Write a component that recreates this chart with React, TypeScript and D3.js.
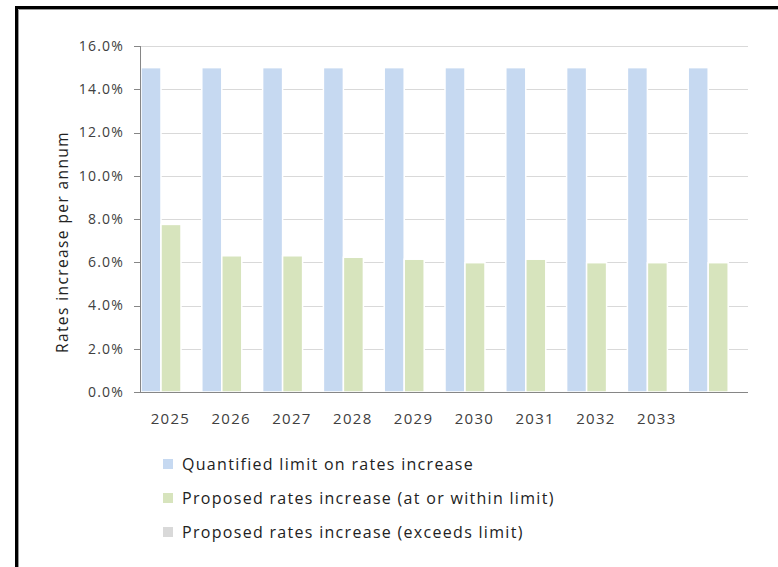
import React from "react";
import * as d3 from "d3";

const categories = ["2025", "2026", "2027", "2028", "2029", "2030", "2031", "2032", "2033", ""];
const limitValues = [15.0, 15.0, 15.0, 15.0, 15.0, 15.0, 15.0, 15.0, 15.0, 15.0];
const withinValues = [7.75, 6.3, 6.3, 6.23, 6.14, 5.98, 6.14, 5.98, 5.98, 5.98];
const exceedsValues = [0, 0, 0, 0, 0, 0, 0, 0, 0, 0];
const seriesNames = [
  "Quantified limit on rates increase",
  "Proposed rates increase (at or within limit)",
  "Proposed rates increase (exceeds limit)",
];
const seriesColors = ["#c6d9f1", "#d7e4bd", "#d9d9d9"];
const yTicks = [0, 2, 4, 6, 8, 10, 12, 14, 16];

const W = 778;
const H = 567;
const left = 140;
const right = 748;
const top = 46;
const bottom = 392;
const font = "'Open Sans', 'DejaVu Sans', sans-serif";
const textColor = "#404040";

export default function App() {
  const x = d3.scaleBand<string>().domain(categories.map((c, i) => String(i))).range([left, right]).padding(0);
  const inner = d3.scaleBand<string>().domain(["0", "1", "2"]).range([1, 61]).padding(0);
  const y = d3.scaleLinear().domain([0, 16]).range([bottom, top]);
  const series = [limitValues, withinValues, exceedsValues];

  return (
    <svg width={W} height={H} style={{ position: "absolute", left: 0, top: 0, background: "#fff" }}>
      <rect x={0} y={0} width={W} height={H} fill="#fff" />
      {/* frame */}
      <path d={`M16.5,${H} V7.5 H${W}`} fill="none" stroke="#000" strokeWidth={3} />
      <path d={`M18.5,${H} V9.5 H${W}`} fill="none" stroke="#999" strokeWidth={1} />

      {/* gridlines */}
      {yTicks.slice(1).map((t) => (
        <line key={t} x1={left} x2={right} y1={Math.round(y(t)) + 0.5} y2={Math.round(y(t)) + 0.5} stroke="#d9d9d9" strokeWidth={1.2} />
      ))}

      {/* bars */}
      {series.map((vals, si) =>
        vals.map((v, ci) => {
          if (v <= 0) return null;
          const bx = (x(String(ci)) as number) + (inner(String(si)) as number);
          return (
            <rect
              key={`${si}-${ci}`}
              x={bx}
              y={y(v)}
              width={inner.bandwidth()}
              height={bottom - y(v)}
              fill={seriesColors[si]}
              stroke="#fff"
              strokeWidth={1.5}
            />
          );
        })
      )}

      {/* axes */}
      <line x1={left + 0.5} x2={left + 0.5} y1={top} y2={bottom} stroke="#868686" strokeWidth={1} />
      <line x1={left} x2={right} y1={bottom + 0.5} y2={bottom + 0.5} stroke="#868686" strokeWidth={1} />
      {yTicks.map((t) => (
        <g key={t}>
          <line x1={left - 6} x2={left} y1={Math.round(y(t)) + 0.5} y2={Math.round(y(t)) + 0.5} stroke="#868686" />
          <text
            x={124}
            y={y(t)}
            dy="0.35em"
            textAnchor="end"
            fontFamily={font}
            fontSize={14}
            letterSpacing={1.2}
            fill={textColor}
          >
            {d3.format(".1f")(t) + "%"}
          </text>
        </g>
      ))}
      {categories.map((c, i) => (
        <text
          key={i}
          x={(x(String(i)) as number) + x.bandwidth() / 2}
          y={424}
          textAnchor="middle"
          fontFamily={font}
          fontSize={15}
          letterSpacing={1.3}
          fill={textColor}
        >
          {c}
        </text>
      ))}

      {/* y title */}
      <text
        transform={`translate(68,242) rotate(-90)`}
        textAnchor="middle"
        fontFamily={font}
        fontSize={15.5}
        letterSpacing={1.4}
        fill="#222"
      >
        Rates increase per annum
      </text>

      {/* legend */}
      {seriesNames.map((n, i) => {
        const ly = 464 + i * 34;
        return (
          <g key={n}>
            <rect x={163} y={ly - 5} width={10} height={10} fill={seriesColors[i]} />
            <text x={182} y={ly} dy="0.35em" fontFamily={font} fontSize={16} letterSpacing={1.3} fill="#222">
              {n}
            </text>
          </g>
        );
      })}
    </svg>
  );
}
